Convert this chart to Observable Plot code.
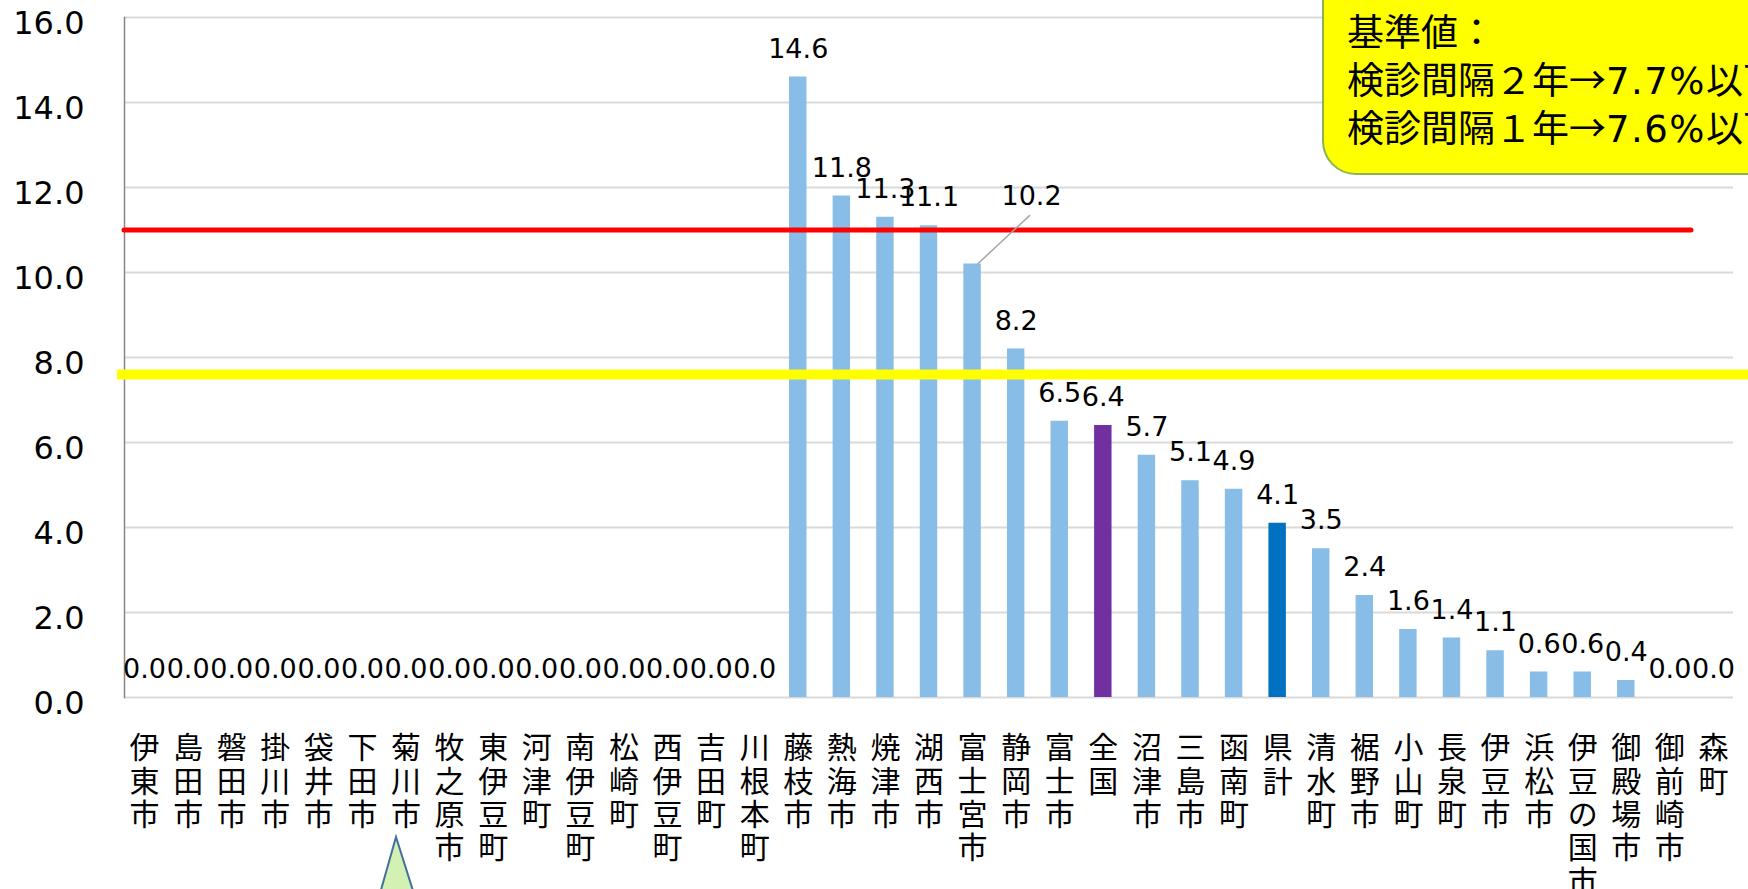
<!DOCTYPE html>
<html>
<head>
<meta charset="utf-8">
<script src="https://cdn.jsdelivr.net/npm/d3@7"></script>
<script src="https://cdn.jsdelivr.net/npm/@observablehq/plot@0.6"></script>
<style>
  html, body { margin: 0; padding: 0; background: #fff; }
  body { width: 1748px; height: 889px; overflow: hidden; position: relative; }
  #chart { position: absolute; left: 0; top: 0; }
  #note {
    position: absolute; left: 1322px; top: -40px; width: 520px; height: 215px;
    box-sizing: border-box; background: #FFFF00; border: 2px solid #8DB255;
    border-radius: 34px;
  }
  #noteText {
    position: absolute; left: 1347px; top: 11px; white-space: nowrap;
    font-family: "DejaVu Sans", "Noto Sans CJK JP", sans-serif; font-size: 37px;
    line-height: 45px; color: #000;
  }
  #noteText .lat { letter-spacing: 1.5px; }
  #noteText .arr { font-family: "Noto Sans CJK JP", sans-serif; }
  #callout { position: absolute; left: 0; top: 0; pointer-events: none; }
</style>
</head>
<body>
<div id="chart"></div>
<div id="note"></div>
<div id="noteText">基準値：<br>検診間隔２年<span class="arr">→</span><span class="lat">7.7%</span>以下<br>検診間隔１年<span class="arr">→</span><span class="lat">7.6%</span>以下</div>
<svg id="callout" width="1748" height="889"><polygon points="396,837 379,897 415,897" fill="#D3F1B3" stroke="#41719C" stroke-width="2"/></svg>
<script>
const categories = ["伊東市","島田市","磐田市","掛川市","袋井市","下田市","菊川市","牧之原市","東伊豆町","河津町","南伊豆町","松崎町","西伊豆町","吉田町","川根本町","藤枝市","熱海市","焼津市","湖西市","富士宮市","静岡市","富士市","全国","沼津市","三島市","函南町","県計","清水町","裾野市","小山町","長泉町","伊豆市","浜松市","伊豆の国市","御殿場市","御前崎市","森町"];
const values = [0,0,0,0,0,0,0,0,0,0,0,0,0,0,0,14.6,11.8,11.3,11.1,10.2,8.2,6.5,6.4,5.7,5.1,4.9,4.1,3.5,2.4,1.6,1.4,1.1,0.6,0.6,0.4,0.0,0.0];
const yTicks = [0,2,4,6,8,10,12,14,16];
const redLine = 11.0;
const yellowLine = 7.6;
const movedLabel = "富士宮市";

const data = categories.map((name, i) => ({name, value: values[i]}));
const barColor = name => name === "全国" ? "#7030A0" : name === "県計" ? "#0070C0" : "#87BDE7";

const chart = Plot.plot({
  width: 1748, height: 889,
  marginLeft: 124, marginRight: 15, marginTop: 17, marginBottom: 192,
  style: {fontFamily: "DejaVu Sans", color: "#000", background: "transparent", overflow: "visible"},
  x: {domain: categories, paddingInner: 0.6, paddingOuter: 0.26, round: false, axis: null},
  y: {domain: [0, 16], axis: null},
  color: {type: "identity"},
  marks: [
    Plot.ruleY(yTicks, {stroke: "#D9D9D9", strokeWidth: 2}),
    Plot.frame({anchor: "left", stroke: "#868686", strokeWidth: 1.5}),
    Plot.text(yTicks, {y: d => d, text: d => d.toFixed(1), frameAnchor: "left", textAnchor: "end", dx: -40, dy: 6, fontSize: 32, fill: "#000"}),
    Plot.barY(data, {x: "name", y: "value", fill: d => barColor(d.name)}),
    Plot.ruleY([redLine], {stroke: "#FF0000", strokeWidth: 5, insetRight: 42, strokeLinecap: "round"}),
    Plot.ruleY([yellowLine], {stroke: "#FFFF00", strokeWidth: 10, insetLeft: -7, insetRight: -20}),
    Plot.text(data.filter(d => d.name !== movedLabel), {x: "name", y: "value", text: d => d.value.toFixed(1), dy: -28, fontSize: 27, fill: "#000"}),
    Plot.text(data.filter(d => d.name === movedLabel), {x: "name", y: "value", text: d => d.value.toFixed(1), dx: 59, dy: -68, fontSize: 27, fill: "#000"}),
    Plot.vector(data.filter(d => d.name === movedLabel), {x: "name", y: "value", anchor: "start", length: 71, rotate: 47, dx: 5, stroke: "#A6A6A6", strokeWidth: 1.5,
      shape: {draw(context, l) { context.moveTo(0, 0); context.lineTo(0, -l); }}}),
    Plot.text(categories, {x: d => d, text: d => [...d].join("\n"), frameAnchor: "bottom", lineAnchor: "top", dy: 37, fontSize: 30, lineHeight: 1.113, fontFamily: "Noto Sans CJK JP", fill: "#000"})
  ]
});
document.getElementById("chart").appendChild(chart);
</script>
</body>
</html>
